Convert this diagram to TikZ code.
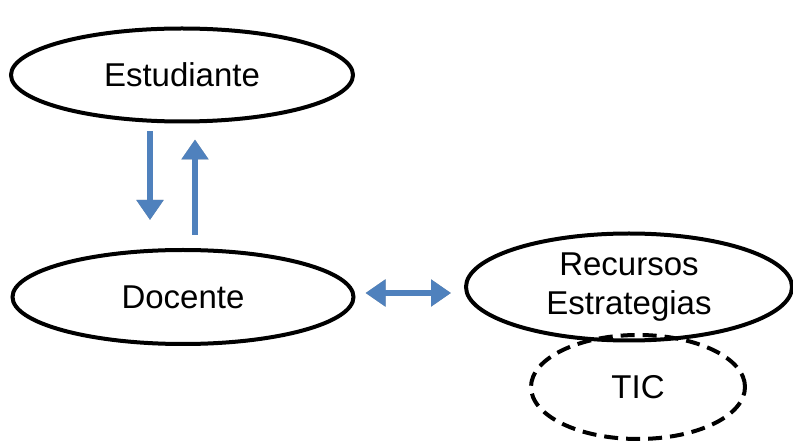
\documentclass[tikz,border=0pt]{standalone}
\usepackage{fontspec}
\setmainfont{Liberation Sans}
\usetikzlibrary{shapes.geometric,arrows.meta}
\begin{document}
\begin{tikzpicture}[x=1pt,y=1pt,
  oval/.style={ellipse,draw,line width=4pt,inner sep=0pt,align=center,
    font=\fontsize{33}{39}\selectfont},
  dashoval/.style={oval,dash pattern=on 14pt off 8pt},
  barrow/.style={draw={rgb,255:red,79;green,129;blue,189},line width=6.5pt,
    -{Triangle[width=26pt,length=20pt]}},
  bdarrow/.style={draw={rgb,255:red,79;green,129;blue,189},line width=6.5pt,
    {Triangle[width=26pt,length=20pt]}-{Triangle[width=26pt,length=20pt]}},
  shadow/.style={draw=gray!70,xshift=-1.8pt,yshift=-1.8pt}
]
\useasboundingbox (0,0) rectangle (793,442);
\node[oval,minimum width=342pt,minimum height=93pt] (est) at (182,367) {Estudiante};
\node[oval,minimum width=341pt,minimum height=94pt] (doc) at (183,145) {Docente};
\node[oval,minimum width=326pt,minimum height=107pt] (rec) at (629,155) {Recursos\\Estrategias};
\node[dashoval,minimum width=214pt,minimum height=104pt] (tic) at (638,55) {TIC};
% shadows
\draw[barrow,shadow,shorten <=8pt,shorten >=28pt] ([xshift=-32pt]est.south) -- ([xshift=-33pt]doc.north);
\draw[barrow,shadow,shorten <=13pt,shorten >=16pt] ([xshift=12pt]doc.north) -- ([xshift=13pt]est.south);
\draw[bdarrow,shadow,shorten <=10pt,shorten >=13pt] ([yshift=4pt]doc.east) -- ([yshift=4pt]doc.east -| rec.west);
% arrows
\draw[barrow,shorten <=8pt,shorten >=28pt] ([xshift=-32pt]est.south) -- ([xshift=-33pt]doc.north);
\draw[barrow,shorten <=13pt,shorten >=16pt] ([xshift=12pt]doc.north) -- ([xshift=13pt]est.south);
\draw[bdarrow,shorten <=10pt,shorten >=13pt] ([yshift=4pt]doc.east) -- ([yshift=4pt]doc.east -| rec.west);
\end{tikzpicture}
\end{document}
